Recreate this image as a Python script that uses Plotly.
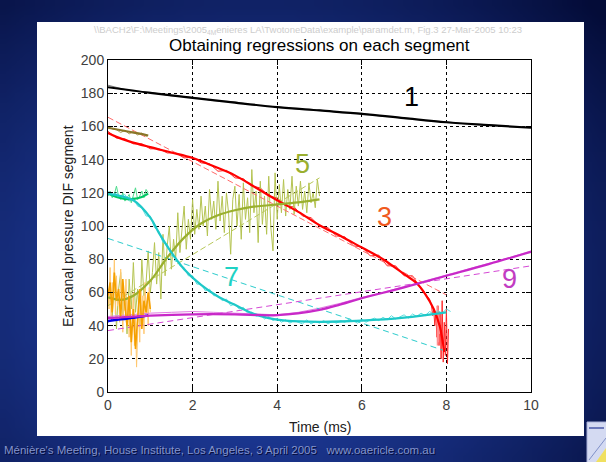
import base64
import math
import struct
import zlib

import plotly.graph_objects as go

# ---------------- data (time in ms, pressure in arbitrary units) ----------------
# segment 1 (black)
seg1_fit_t = [0, 1, 2, 3, 4, 5, 6, 7, 8, 9, 10]
seg1_fit_y = [183.6, 180.2, 177.2, 174.3, 171.6, 169.6, 167.6, 165.0, 162.5, 160.8, 159.2]
seg1_raw_t = [0, 0.5, 1, 1.5, 2, 2.5, 3, 3.5, 4, 4.5, 5, 5.5, 6, 6.5, 7, 7.5, 8, 8.5, 9, 9.5, 10]
seg1_raw_y = [184.8, 181.6, 180.5, 178.4, 177.6, 175.5, 174.8, 172.6, 171.9, 170.3, 169.9,
              168.3, 167.9, 166.0, 165.3, 163.5, 162.8, 161.4, 161.1, 159.8, 159.5]

# segment 2 (dark olive)
seg2_fit_t = [0, 0.25, 0.5, 0.75, 0.95]
seg2_fit_y = [159.2, 158.0, 156.8, 155.6, 154.5]
seg2_raw_t = [0, 0.1, 0.2, 0.3, 0.4, 0.5, 0.6, 0.7, 0.8, 0.9, 0.95]
seg2_raw_y = [160.0, 158.5, 158.0, 156.3, 157.6, 155.5, 156.8, 154.8, 156.0, 154.0, 154.6]

# segment 3 (red)
seg3_fit_t = [0, 0.2, 0.5, 1, 1.5, 2, 2.5, 3, 3.5, 4, 4.5, 5, 5.5, 6, 6.5, 7, 7.3, 7.5, 7.7, 7.85, 7.95]
seg3_fit_y = [156.0, 153.7, 151.0, 147.5, 144.3, 141.0, 136.0, 130.5, 123.0, 115.5, 108.5, 100.5,
              94.0, 87.0, 80.0, 71.0, 65.5, 59.0, 50.0, 39.0, 24.0]
seg3_raw_t = [0.0, 0.2, 0.4, 0.6, 0.8, 1.0, 1.2, 1.4, 1.6, 1.8, 2.0, 2.2, 2.4, 2.6, 2.8, 3.0,
              3.2, 3.4, 3.6, 3.8, 4.0, 4.2, 4.4, 4.6, 4.8, 5.0, 5.2, 5.4, 5.6, 5.8, 6.0, 6.2,
              6.4, 6.6, 6.8, 7.0, 7.2, 7.4, 7.6, 7.65, 7.675, 7.7, 7.725, 7.75, 7.775, 7.8,
              7.825, 7.85, 7.875, 7.9, 7.925, 7.95, 7.975, 8.0, 8.025, 8.05]
seg3_raw_y = [157, 153, 152.5, 149.5, 149.5, 146.5, 146.5, 144, 144, 141, 141.5, 138, 137.5, 133,
              133.5, 129, 128.5, 124, 123, 118, 117, 112, 111.5, 106, 105, 100, 99, 94, 93.5, 88,
              87.5, 82, 82.5, 76, 76, 70, 70, 62, 56, 52, 46, 50, 40, 47, 33, 52, 28, 48, 20, 55,
              18, 42, 22, 50, 17, 38]
seg3_lin_t = [0, 8]
seg3_lin_y = [165.5, 58.5]
seg3_spike_t = [7.78, 7.79, 7.80, 7.81, 7.82, 7.83]
seg3_spike_y = [52, 28, 48, 30, 45, 35]

# segment 4 (green)
seg4_fit_t = [0, 0.2, 0.4, 0.6, 0.8, 0.95]
seg4_fit_y = [119.5, 117.5, 116.3, 116.3, 117.5, 119.5]
seg4_raw_t = [0, 0.05, 0.1, 0.15, 0.2, 0.25, 0.3, 0.35, 0.4, 0.45, 0.5, 0.55, 0.6, 0.65,
              0.7, 0.75, 0.8, 0.85, 0.9, 0.95]
seg4_raw_y = [118, 121, 117, 119, 124, 118, 116, 120, 115, 117, 119, 114, 118, 123, 116,
              118, 121, 117, 122, 120]

# segment 5 (yellow-green)
seg5_fit_t = [0, 0.3, 0.6, 1, 1.4, 1.8, 2.2, 2.6, 3, 3.4, 3.8, 4.2, 4.6, 5]
seg5_fit_y = [57, 55.5, 58, 67, 81, 93, 101.5, 106.5, 109.5, 111.5, 112.5, 113.5, 114.5, 116]
seg5_lin_t = [0, 5]
seg5_lin_y = [52, 129]
seg5_raw_y = [52, 64, 45, 70, 38, 62, 72, 44, 60, 35, 68, 50, 78, 48, 62, 40, 80, 58, 66, 85,
              60, 72, 90, 65, 84, 56, 95, 70, 88, 100, 74, 92, 80, 108, 84, 99, 112, 86, 104, 92,
              116, 95, 110, 98, 118, 100, 112, 94, 122, 104, 115, 98, 127, 103, 118, 96, 120, 108,
              83, 116, 124, 100, 119, 92, 126, 104, 117, 96, 134, 108, 121, 90, 127, 101, 118, 95,
              130, 99, 85, 132, 104, 125, 108, 128, 106, 122, 110, 130, 107, 124, 112, 127, 110,
              121, 108, 126, 114, 120, 111, 128, 118]
seg5_raw_t = [round(0.05 * i, 2) for i in range(len(seg5_raw_y))]

# segment 6 (orange)
seg6_fit_y = [58, 66, 48, 72, 55, 62, 45, 68, 52, 40, 58, 30, 50, 26, 44, 62, 38, 55, 48, 60, 50]
seg6_fit_t = [round(0.05 * i, 3) for i in range(len(seg6_fit_y))]
seg6_raw_y = [62, 50, 75, 44, 66, 58, 80, 47, 70, 52, 61, 42, 74, 55, 36, 60, 49, 68, 40, 57, 33,
              52, 22, 46, 60, 28, 44, 15, 38, 54, 30, 62, 42, 58, 35, 66, 47, 55, 40, 63, 48]
seg6_raw_t = [round(0.025 * i, 3) for i in range(len(seg6_raw_y))]

# segment 7 (cyan)
seg7_fit_t = [0, 0.3, 0.6, 1, 1.2, 1.5, 1.8, 2.2, 2.6, 3, 3.4, 3.8, 4.2, 5, 6, 7, 8]
seg7_fit_y = [119.5, 118, 115.5, 105, 96, 84, 74, 64.5, 57.5, 52.5, 47.5, 44.5, 43, 42.3, 43, 44.8, 48]
seg7_lin_t = [0, 8]
seg7_lin_y = [92.5, 24.5]
seg7_raw_y = [121, 118, 120, 117.5, 119, 115, 117, 112, 111, 106, 106, 99, 97, 90, 89, 82, 81,
              76, 75, 70, 70, 65, 65, 61, 62, 58, 58, 55, 56, 52, 53, 50, 51, 47.5, 48, 45.5,
              46.5, 44, 45.5, 43, 44.5, 42, 43.5, 41.5, 43, 42, 41, 43.5, 41, 42.5, 41.5, 43,
              41, 42.5, 41.5, 43, 42, 44, 42.5, 41.5, 44, 42, 43.5, 44.5, 43, 45, 43.5, 46, 44,
              45.5, 46.5, 44.5, 47, 45.5, 47.5, 46, 48.5, 47, 49, 47.5, 50, 48.5]
seg7_raw_t = [round(0.1 * i, 2) for i in range(len(seg7_raw_y))]

# segment 8 (blue)
seg8_fit_t = [0, 0.25, 0.5, 0.75, 0.95]
seg8_fit_y = [42.8, 43.6, 44.4, 45.3, 46.2]
seg8_raw_t = [0, 0.1, 0.2, 0.3, 0.4, 0.5, 0.6, 0.7, 0.8, 0.9]
seg8_raw_y = [42, 44, 43, 44.5, 43.5, 45, 44, 46, 45, 46.5]

# segment 9 (magenta)
seg9_fit_t = [0, 1, 2, 3, 4, 5, 5.5, 6, 7, 8, 9, 10]
seg9_fit_y = [44.5, 46, 46.8, 46.8, 46.3, 49.5, 52.8, 56.5, 63, 70, 77, 84.5]
seg9_lin_t = [0, 10]
seg9_lin_y = [37, 76]
seg9_raw_t = [0, 0.5, 1, 1.5, 2, 2.5, 3, 3.5, 4, 4.5, 5, 5.5, 6, 6.5, 7, 7.5, 8, 8.5, 9, 9.5, 10]
seg9_raw_y = [45.5, 46.5, 47.5, 48, 48.5, 48, 47.5, 47, 46.5, 48, 50.5, 53.5, 57, 60, 63.5, 67,
              70.5, 74, 77.5, 81, 85]

# segment number labels: (text, t, y, colour)
seg_labels = [("1", 7.18, 177.6, "#000000"), ("3", 6.54, 105.3, "#F05A1E"),
              ("5", 4.6, 137.5, "#9AAF30"), ("7", 2.92, 69.2, "#1ED2C4"),
              ("9", 9.5, 68.2, "#C23CC2")]

x_ticks = [0, 2, 4, 6, 8, 10]
y_ticks = [0, 20, 40, 60, 80, 100, 120, 140, 160, 180, 200]

# ---------------- page geometry ----------------
W, H = 606, 462
ML, MR, MT, MB = 108, 75, 60, 70
PW, PH = W - ML - MR, H - MT - MB


def px(xp):
    return (xp - ML) / PW


def py(yp):
    return (H - MB - yp) / PH


def gradient_png(w, h):
    """Small RGB PNG with a radial navy-blue gradient for the slide backdrop."""
    c_in = (36, 70, 176)
    c_out = (4, 12, 56)
    rows = []
    for j in range(h):
        row = bytearray([0])
        v = j / (h - 1)
        for i in range(w):
            u = i / (w - 1)
            d = math.sqrt(((u - 0.42) / 0.78) ** 2 + ((v - 0.62) / 0.9) ** 2)
            t = min(1.0, d) ** 1.3
            row.extend(int(round(a + (b - a) * t)) for a, b in zip(c_in, c_out))
        rows.append(bytes(row))

    def chunk(tag, data):
        return (struct.pack(">I", len(data)) + tag + data +
                struct.pack(">I", zlib.crc32(tag + data) & 0xFFFFFFFF))

    png = (b"\x89PNG\r\n\x1a\n" +
           chunk(b"IHDR", struct.pack(">IIBBBBB", w, h, 8, 2, 0, 0, 0)) +
           chunk(b"IDAT", zlib.compress(b"".join(rows))) +
           chunk(b"IEND", b""))
    return "data:image/png;base64," + base64.b64encode(png).decode()


fig = go.Figure()


def add_line(t, y, color, width, dash="solid", shape="linear"):
    fig.add_trace(go.Scatter(x=t, y=y, mode="lines", hoverinfo="skip",
                             line=dict(color=color, width=width, dash=dash, shape=shape)))


# raw traces (thin, light)
add_line(seg1_raw_t, seg1_raw_y, "#7A7A7A", 1)
add_line(seg2_raw_t, seg2_raw_y, "#B0A060", 1)
add_line(seg3_raw_t, seg3_raw_y, "#FF2A2A", 1)
add_line(seg3_spike_t, seg3_spike_y, "#FF9090", 1.5)
add_line(seg4_raw_t, seg4_raw_y, "#4CDC8C", 1)
add_line(seg5_raw_t, seg5_raw_y, "#B5C452", 1)
add_line(seg6_raw_t, seg6_raw_y, "#FFC870", 1)
add_line(seg7_raw_t, seg7_raw_y, "#5CE0E0", 1)
add_line(seg8_raw_t, seg8_raw_y, "#4060FF", 1)
add_line(seg9_raw_t, seg9_raw_y, "#E27CE2", 1)

# straight regressions (dashed)
add_line(seg3_lin_t, seg3_lin_y, "#FF6A6A", 1, dash="6px,3px")
add_line(seg5_lin_t, seg5_lin_y, "#B8C85A", 1, dash="6px,3px")
add_line(seg7_lin_t, seg7_lin_y, "#2CCCCC", 1, dash="6px,4px")
add_line(seg9_lin_t, seg9_lin_y, "#D548D5", 1, dash="6px,4px")

# fitted curves (thick)
add_line(seg1_fit_t, seg1_fit_y, "#000000", 2.2, shape="spline")
add_line(seg2_fit_t, seg2_fit_y, "#8A7628", 2.2, shape="spline")
add_line(seg3_fit_t, seg3_fit_y, "#FF0000", 2.2, shape="spline")
add_line(seg4_fit_t, seg4_fit_y, "#00C864", 2.2, shape="spline")
add_line(seg5_fit_t, seg5_fit_y, "#9AB02E", 2.2, shape="spline")
add_line(seg6_fit_t, seg6_fit_y, "#F5A000", 1.6)
add_line(seg7_fit_t, seg7_fit_y, "#1EC8C8", 2.2, shape="spline")
add_line(seg8_fit_t, seg8_fit_y, "#0000E6", 2.4, shape="spline")
add_line(seg9_fit_t, seg9_fit_y, "#C828C8", 2.2, shape="spline")

font_main = "Liberation Sans, Arial, Helvetica, sans-serif"

annotations = []
for txt, t, yv, col in seg_labels:
    annotations.append(dict(x=t, y=yv, xref="x", yref="y", text=txt, showarrow=False,
                            xanchor="center", yanchor="middle",
                            font=dict(family=font_main, size=27, color=col)))


def page_text(xp, yp, text, size, color, xanchor="center", **extra):
    font = dict(family=font_main, size=size, color=color)
    font.update(extra.pop("font_extra", {}))
    d = dict(x=px(xp), xref="paper", y=py(yp), yref="paper", text=text, showarrow=False,
             xanchor=xanchor, yanchor="middle", font=font)
    d.update(extra)
    return d


annotations += [
    page_text(319.5, 45, "Obtaining regressions on each segment", 17, "#000000"),
    page_text(92, 30,
              "\\\\BACH2\\F:\\Meetings\\2005<sub>4</sub><sub>M</sub>enieres LA\\TwotoneData\\example"
              "\\paramdet.m, Fig.3 27-Mar-2005 10:23", 9.5, "#CDCDCD", xanchor="left"),
    page_text(68, 226, "Ear canal pressure DIF segment", 14, "#202020", textangle=-90),
    page_text(319.5, 427, "Time (ms)", 14, "#202020"),
    page_text(2, 450,
              "Ménière's Meeting, House Institute, Los Angeles, 3 April 2005   www.oaericle.com.au",
              11.5, "#8494CC", xanchor="left",
              font_extra=dict(shadow="1px 1px 0px #050C3A")),
]

shapes = [
    # white figure panel
    dict(type="rect", xref="paper", yref="paper", x0=px(37), x1=px(584), y0=py(436), y1=py(22),
         fillcolor="#FFFFFF", line=dict(width=0), layer="below"),
    # small slide thumbnail in the corner
    dict(type="rect", xref="paper", yref="paper", x0=px(587), x1=px(607), y0=py(463), y1=py(422),
         fillcolor="#D4DAF2", line=dict(color="#A8B0D8", width=1), layer="below"),
    dict(type="line", xref="paper", yref="paper", x0=px(589), x1=px(604), y0=py(428), y1=py(428),
         line=dict(color="#4A58A8", width=1.5), layer="below"),
    dict(type="path", xref="paper", yref="paper", layer="below",
         path=f"M {px(596)} {py(462)} L {px(606)} {py(448)} L {px(606)} {py(462)} Z",
         fillcolor="#F0E060", line=dict(width=0)),
    dict(type="line", xref="paper", yref="paper", x0=px(589), x1=px(606), y0=py(460), y1=py(438),
         line=dict(color="#8090C8", width=1), layer="below"),
]

axis_common = dict(showline=True, linecolor="#000000", linewidth=1, mirror="ticks",
                   ticks="inside", ticklen=5, tickcolor="#000000", tickwidth=1,
                   showgrid=True, gridcolor="#000000", gridwidth=1, griddash="3px,3px",
                   zeroline=False, tickfont=dict(family=font_main, size=14, color="#404040"))

fig.update_layout(
    width=W, height=H, autosize=False,
    margin=dict(l=ML, r=MR, t=MT, b=MB, pad=0),
    paper_bgcolor="#0A1650", plot_bgcolor="rgba(0,0,0,0)",
    showlegend=False,
    xaxis=dict(range=[0, 10], tickvals=x_ticks, ticktext=[str(v) for v in x_ticks], **axis_common),
    yaxis=dict(range=[0, 200], tickvals=y_ticks, ticktext=[str(v) for v in y_ticks], **axis_common),
    images=[dict(source=gradient_png(61, 47), xref="paper", yref="paper",
                 x=px(0), y=py(0), sizex=W / PW, sizey=H / PH, xanchor="left", yanchor="top",
                 sizing="stretch", layer="below")],
    shapes=shapes,
    annotations=annotations,
)

fig.write_html("out.html")
